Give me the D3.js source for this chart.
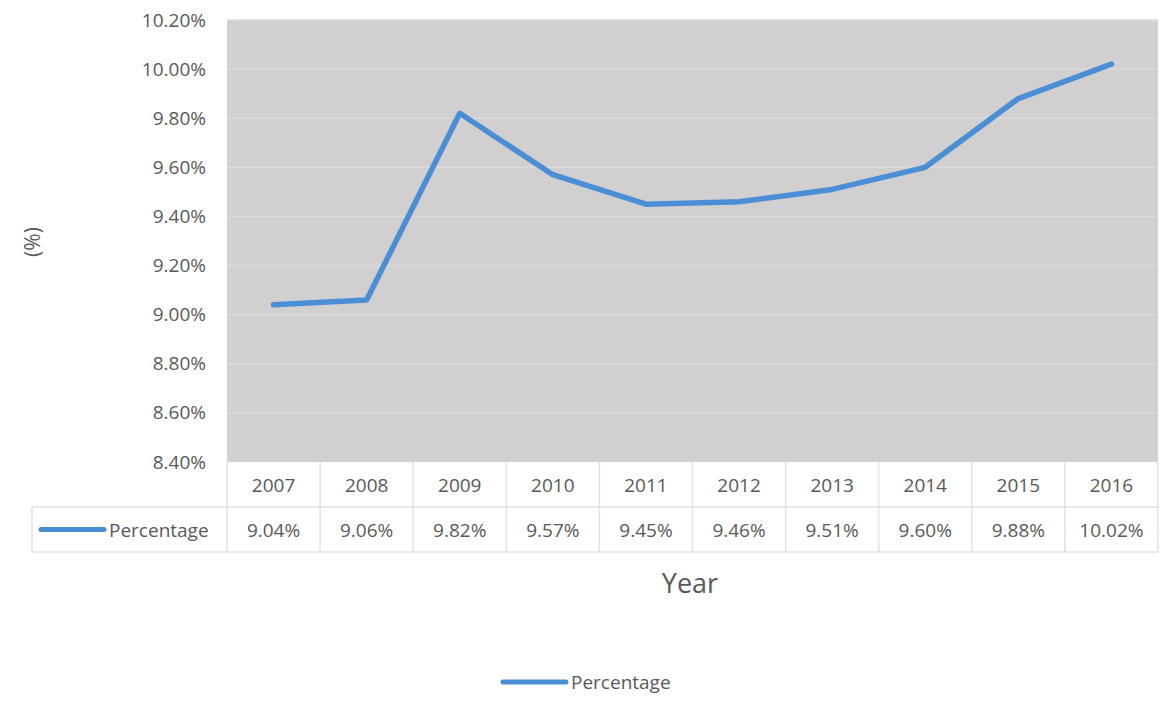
<!DOCTYPE html>
<html>
<head>
<meta charset="utf-8">
<script src="https://cdn.jsdelivr.net/npm/d3@7"></script>
<style>
  body { margin: 0; background: #fff; }
  svg text { font-family: "Open Sans", sans-serif; fill: #595959; }
</style>
</head>
<body>
<svg id="chart" width="1165" height="707"></svg>
<script>
// chart data
var years = ["2007", "2008", "2009", "2010", "2011", "2012", "2013", "2014", "2015", "2016"];
var percentage = [9.04, 9.06, 9.82, 9.57, 9.45, 9.46, 9.51, 9.60, 9.88, 10.02];
var yTicks = [8.4, 8.6, 8.8, 9.0, 9.2, 9.4, 9.6, 9.8, 10.0, 10.2];
var seriesName = "Percentage";

var svg = d3.select("#chart");

var plot = { left: 227, right: 1158, top: 20, bottom: 462 };
var rowH = 45;
var lineColor = "#4a8fd6";
var tableLine = "#e2e2e2";
var fs = "19px";

var x = d3.scaleBand().domain(years).range([plot.left, plot.right]);
var y = d3.scaleLinear().domain([8.4, 10.2]).range([plot.bottom, plot.top]);

// plot background
svg.append("rect")
    .attr("x", plot.left).attr("y", plot.top)
    .attr("width", plot.right - plot.left).attr("height", plot.bottom - plot.top)
    .style("fill", "#d1cfd0");

// gridlines
svg.append("g").selectAll("line").data(yTicks.slice(1)).enter().append("line")
    .attr("x1", plot.left).attr("x2", plot.right)
    .attr("y1", function (d) { return y(d); })
    .attr("y2", function (d) { return y(d); })
    .style("stroke", "#dcdadb").style("stroke-width", 1.5);

// y axis labels
var yAxis = d3.axisLeft(y).tickValues(yTicks).tickSize(0).tickPadding(21)
    .tickFormat(function (d) { return d.toFixed(2) + "%"; });
var yg = svg.append("g").attr("transform", "translate(" + plot.left + ",0)").call(yAxis);
yg.select(".domain").remove();
yg.selectAll("text").style("font-size", fs).style("font-family", "Open Sans, sans-serif").style("fill", "#595959");

// y axis title
svg.append("text")
    .attr("transform", "translate(40,242) rotate(-90)")
    .attr("text-anchor", "middle")
    .style("font-size", "21px")
    .text("(%)");

// line
var line = d3.line()
    .x(function (d, i) { return x(years[i]) + x.bandwidth() / 2; })
    .y(function (d) { return y(d); });

svg.append("path").datum(percentage)
    .attr("d", line)
    .style("fill", "none")
    .style("stroke", lineColor)
    .style("stroke-width", 5.5)
    .style("stroke-linejoin", "round")
    .style("stroke-linecap", "round");

// data table
var table = svg.append("g");
var t1 = plot.bottom, t2 = plot.bottom + rowH, t3 = plot.bottom + 2 * rowH, tableLeft = 32;

// horizontal lines
table.append("line").attr("x1", tableLeft).attr("x2", plot.right).attr("y1", t2).attr("y2", t2);
table.append("line").attr("x1", tableLeft).attr("x2", plot.right).attr("y1", t3).attr("y2", t3);
// vertical lines
table.append("line").attr("x1", tableLeft).attr("x2", tableLeft).attr("y1", t2).attr("y2", t3);
table.selectAll("line.v").data(years.concat(["end"])).enter().append("line")
    .attr("class", "v")
    .attr("x1", function (d, i) { return plot.left + i * x.bandwidth(); })
    .attr("x2", function (d, i) { return plot.left + i * x.bandwidth(); })
    .attr("y1", t1).attr("y2", t3);
table.selectAll("line").style("stroke", tableLine).style("stroke-width", 1.5);

table.selectAll("text.year").data(years).enter().append("text")
    .attr("class", "year")
    .attr("x", function (d) { return x(d) + x.bandwidth() / 2; })
    .attr("y", t1 + rowH / 2 + 7)
    .attr("text-anchor", "middle")
    .style("font-size", fs)
    .text(function (d) { return d; });

table.selectAll("text.val").data(percentage).enter().append("text")
    .attr("class", "val")
    .attr("x", function (d, i) { return x(years[i]) + x.bandwidth() / 2; })
    .attr("y", t2 + rowH / 2 + 7)
    .attr("text-anchor", "middle")
    .style("font-size", fs)
    .text(function (d) { return d.toFixed(2) + "%"; });

table.append("line")
    .attr("x1", 41).attr("x2", 104).attr("y1", t2 + rowH / 2).attr("y2", t2 + rowH / 2)
    .style("stroke", lineColor).style("stroke-width", 5).style("stroke-linecap", "round");
table.append("text")
    .attr("x", 109).attr("y", t2 + rowH / 2 + 7)
    .style("font-size", fs)
    .text(seriesName);

// x axis title
svg.append("text")
    .attr("x", 690).attr("y", 593)
    .attr("text-anchor", "middle")
    .style("font-size", "27px")
    .text("Year");

// legend
svg.append("line")
    .attr("x1", 503).attr("x2", 566).attr("y1", 682).attr("y2", 682)
    .style("stroke", lineColor).style("stroke-width", 5).style("stroke-linecap", "round");
svg.append("text")
    .attr("x", 571).attr("y", 689)
    .style("font-size", fs)
    .text(seriesName);
</script>
</body>
</html>
